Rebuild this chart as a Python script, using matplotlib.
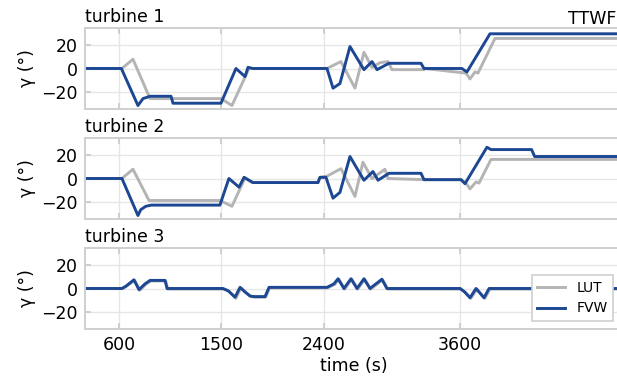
import matplotlib.pyplot as plt

# yaw offset time series per turbine (time in s, gamma in deg)
t1_lut_t = [300, 625, 722, 872, 1496, 1593, 1743, 2429, 2552, 2675, 2754, 2825, 2895, 2965, 3001, 3282, 3290, 3652, 3687, 3731, 3757, 3907, 5100]
t1_lut_g = [0, 0, 8, -26, -26, -32, 0, 0, 6, -17, 14, 1, 5, 6, -1, -1, 0, -4, -9, -3, -4, 26, 26]
t1_fvw_t = [300, 620, 766, 810, 872, 1057, 1074, 1496, 1628, 1708, 1734, 1778, 2429, 2482, 2543, 2631, 2754, 2825, 2869, 2974, 3256, 3282, 3616, 3660, 3863, 5100]
t1_fvw_g = [0, 0, -32, -26, -24, -24, -30, -30, 0, -7, 1, 0, 0, -17, -13, 19, -1, 6, -1, 4.5, 4.5, 0, 0, -3, 30, 30]

t2_lut_t = [300, 625, 722, 863, 1487, 1593, 1708, 1770, 2350, 2367, 2429, 2552, 2675, 2745, 2825, 2939, 2965, 3282, 3608, 3652, 3687, 3740, 3766, 3872, 5100]
t2_lut_g = [0, 0, 8, -19, -19, -24, 0.5, -3.5, -3.5, 1, 2, 8.5, -15.5, 14, 0, 8, 0, -1, -1, -4, -9, -3, -4, 16.5, 16.5]
t2_fvw_t = [300, 625, 766, 790, 835, 885, 1487, 1566, 1655, 1699, 1778, 2350, 2367, 2420, 2482, 2543, 2631, 2754, 2833, 2878, 2974, 3256, 3282, 3608, 3643, 3836, 3872, 4229, 4256, 5100]
t2_fvw_g = [0, 0, -32, -27, -24, -23, -23, 0, -7.5, 1, -3.5, -3.5, 1, 1, -17, -12, 19, -1.5, 6, -1.5, 4.5, 4.5, -1, -1, -4.5, 27, 25, 25, 19, 19]

t3_lut_t = [300, 630, 665, 738, 782, 835, 880, 1010, 1028, 1520, 1568, 1628, 1672, 1716, 1760, 1795, 1890, 1925, 2435, 2497, 2533, 2585, 2647, 2700, 2761, 2814, 2919, 2963, 3608, 3648, 3695, 3748, 3818, 3863, 5100]
t3_lut_g = [0, 0, 2, 7, -1.5, 3.5, 6.5, 6.5, -0.5, -0.5, -2.5, -8.5, 0.5, -3.5, -7, -7.5, -7.5, 0.5, 0.5, 3.5, 8, -0.5, 8, -0.5, 8, -0.5, 7.5, -0.5, -0.5, -3.5, -8.5, -0.5, -8.5, -0.5, -0.5]
t3_fvw_t = [300, 625, 660, 730, 775, 828, 872, 1004, 1022, 1514, 1560, 1620, 1664, 1708, 1752, 1787, 1884, 1919, 2429, 2490, 2526, 2578, 2640, 2693, 2754, 2807, 2912, 2956, 3600, 3640, 3687, 3740, 3810, 3855, 5100]
t3_fvw_g = [0, 0, 2, 7.5, -1, 4, 7, 7, 0, 0, -2, -7.5, 1, -3, -6.5, -7, -7, 1, 1, 4, 8.4, 0, 8.4, 0, 8.4, 0, 8, 0, 0, -3, -8, 0, -8, 0, 0]

turbines = ['turbine 1', 'turbine 2', 'turbine 3']
lut = [(t1_lut_t, t1_lut_g), (t2_lut_t, t2_lut_g), (t3_lut_t, t3_lut_g)]
fvw = [(t1_fvw_t, t1_fvw_g), (t2_fvw_t, t2_fvw_g), (t3_fvw_t, t3_fvw_g)]
xticks = [600, 1500, 2400, 3600]
yticks = [-20, 0, 20]

c_lut = '#b4b4b4'
c_fvw = '#1c4793'
c_frame = '#cfcfcf'

plt.rcParams['font.family'] = 'DejaVu Sans'
plt.rcParams['font.size'] = 12.5

fig = plt.figure(figsize=(6.17, 3.76), dpi=100)
W, H = 617, 376
px_per_s = (460 - 119) / 3000.0
right_px = 623
bottoms = [109, 219, 329]
axes = []
for i, name in enumerate(turbines):
    ax = fig.add_axes([85 / W, 1 - bottoms[i] / H, (right_px - 85) / W, 81 / H])
    ax.plot(*lut[i], color=c_lut, lw=2.1, label='LUT')
    ax.plot(*fvw[i], color=c_fvw, lw=2.1, label='FVW')
    ax.set_xlim(300, 300 + (right_px - 85) / px_per_s)
    ax.set_ylim(-35, 35)
    ax.set_xticks(xticks)
    ax.set_yticks(yticks)
    ax.grid(True, color='#e6e6e6', lw=1.0)
    ax.set_axisbelow(True)
    for s in ax.spines.values():
        s.set_color(c_frame)
        s.set_linewidth(1.4)
    ax.tick_params(direction='in', top=True, right=True, color=c_frame,
                   length=4, width=1.4, pad=5, labelsize=12.5)
    ax.set_ylabel('γ (°)', labelpad=4)
    ax.set_title(name, loc='left', pad=4, fontsize=12.5)
    if i < 2:
        ax.tick_params(labelbottom=False)
    axes.append(ax)

# case label in the top right corner
fig.text(616 / W, 1 - 23.5 / H, 'TTWF', ha='right', va='baseline', fontsize=12.5)
axes[2].set_xlabel('time (s)', labelpad=2)
leg = axes[2].legend(loc='lower right', fontsize=10, fancybox=False,
                     framealpha=1, edgecolor=c_frame,
                     bbox_to_anchor=(613 / W, 1 - 321 / H),
                     bbox_transform=fig.transFigure, borderaxespad=0)
leg.get_frame().set_linewidth(1.2)

fig.savefig('out.png', dpi=100)
